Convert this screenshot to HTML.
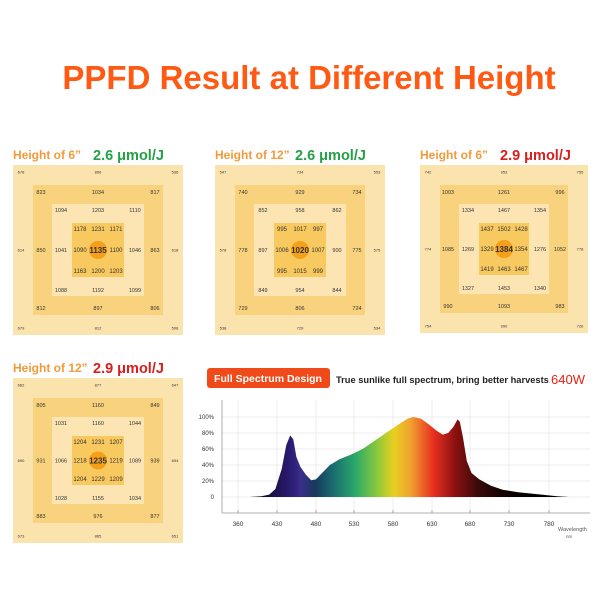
<!DOCTYPE html>
<html><head><meta charset="utf-8"><style>
html,body{margin:0;padding:0;background:#fff;width:600px;height:600px;overflow:hidden}
svg{display:block;font-family:"Liberation Sans",sans-serif}
</style></head><body>
<svg id="s" width="600" height="600" viewBox="0 0 600 600">
<defs>
<linearGradient id="sp" x1="254" x2="534" y1="0" y2="0" gradientUnits="userSpaceOnUse">
<stop offset="0" stop-color="#000"/>
<stop offset="0.06" stop-color="#1a1040"/>
<stop offset="0.125" stop-color="#2a1a70"/>
<stop offset="0.167" stop-color="#3a2e8a"/>
<stop offset="0.22" stop-color="#173a5a"/>
<stop offset="0.28" stop-color="#1a6a70"/>
<stop offset="0.36" stop-color="#2aa86a"/>
<stop offset="0.44" stop-color="#8ac83a"/>
<stop offset="0.5" stop-color="#e8d020"/>
<stop offset="0.56" stop-color="#f0a030"/>
<stop offset="0.64" stop-color="#e83020"/>
<stop offset="0.72" stop-color="#8a1010"/>
<stop offset="0.8" stop-color="#3a0a0a"/>
<stop offset="0.89" stop-color="#110000"/>
<stop offset="1" stop-color="#000"/>
</linearGradient>
</defs>
<text x="309" y="89" text-anchor="middle" font-size="33" font-weight="bold" fill="#ff5a14">PPFD Result at Different Height</text>
<g id="panels"></g>
<rect x="207" y="368" width="123" height="20" rx="3" fill="#f04a1a"/>
<text x="268" y="382" text-anchor="middle" font-size="10.5" font-weight="bold" fill="#fff">Full Spectrum Design</text>
<text x="336" y="383" font-size="9.3" font-weight="bold" fill="#222">True sunlike full spectrum, bring better harvests</text>
<text x="551" y="384" font-size="13" fill="#e82010">640W</text>
<g id="chart"></g>
</svg>
<script>
var NS="http://www.w3.org/2000/svg";
function el(p,t,a,txt){var e=document.createElementNS(NS,t);for(var k in a)e.setAttribute(k,a[k]);if(txt!==undefined)e.textContent=txt;p.appendChild(e);return e;}
var P=document.getElementById("panels");
function panel(x,y,w,h,t1,t2,c2,o,r2,r3,inn){
 el(P,"text",{x:x,y:y-6,"font-size":12,"font-weight":"bold",fill:"#f39a3a"},t1);
 el(P,"text",{x:x+80,y:y-5,"font-size":14.5,"font-weight":"bold",fill:c2},t2);
 el(P,"rect",{x:x,y:y,width:w,height:h,fill:"#fbe3ad"});
 el(P,"rect",{x:x+20,y:y+20,width:w-40,height:h-40,fill:"#f9d27e"});
 el(P,"rect",{x:x+39,y:y+39,width:w-78,height:h-78,fill:"#fde5b3"});
 el(P,"rect",{x:x+59,y:y+58,width:w-118,height:h-116,fill:"#f8c95f"});
 var cx=x+w/2,cy=y+h/2;
 el(P,"circle",{cx:cx,cy:cy,r:9,fill:"#f5a01a"});
 function grid(v,dx,dy,fs,fw){
  var xs=[x+dx,cx,x+w-dx],ys=[y+dy,cy,y+h-dy];
  for(var i=0;i<9;i++){if(v[i]==="")continue;var r=Math.floor(i/3),c=i%3;
   var f=fs,b=fw;if(i==4){f=8;b="bold";}
   el(P,"text",{x:xs[c],y:ys[r]+f*0.35,"text-anchor":"middle","font-size":f,"font-weight":b,fill:"#333"},v[i]);}
 }
 grid(o,8,7,4,"normal");
 grid(r2,28,27,5.5,"normal");
 grid(r3,48,45,5.5,"normal");
 grid(inn,67,64,6,"normal");
}
panel(13,165,170,170,"Height of 6\u201d","2.6 \u03bcmol/J","#24a046",
 ["678","806","536","614","","618","679","812","508"],
 ["823","1034","817","850","","863","812","897","806"],
 ["1094","1203","1110","1041","","1046","1088","1192","1099"],
 ["1178","1231","1171","1090","1135","1100","1163","1200","1203"]);
panel(215,165,170,170,"Height of 12\u201d","2.6 \u03bcmol/J","#24a046",
 ["547","734","553","578","","575","538","729","534"],
 ["740","929","734","778","","775","729","806","724"],
 ["852","958","862","897","","900","849","954","844"],
 ["995","1017","997","1006","1020","1007","995","1015","999"]);
panel(420,165,168,168,"Height of 6\u201d","2.9 \u03bcmol/J","#d81e1e",
 ["742","953","755","774","","778","754","990","726"],
 ["1003","1261","996","1085","","1052","990","1093","983"],
 ["1334","1467","1354","1269","","1276","1327","1453","1340"],
 ["1437","1502","1428","1329","1384","1354","1419","1463","1467"]);
panel(13,378,170,165,"Height of 12\u201d","2.9 \u03bcmol/J","#d81e1e",
 ["662","877","647","690","","694","673","865","651"],
 ["805","1160","849","931","","939","883","976","877"],
 ["1031","1160","1044","1066","","1089","1028","1155","1034"],
 ["1204","1231","1207","1218","1235","1219","1204","1229","1209"]);
var C=document.getElementById("chart");
function X(nm){return 277+(nm-430)*0.778;}
function Y(p){return 497-0.8*p;}
var labs=[[360,238],[430,277],[480,316],[530,354],[580,393],[630,432],[680,470],[730,509],[780,549]];
labs.forEach(function(l){el(C,"line",{x1:l[1],x2:l[1],y1:400,y2:513,stroke:"#e6e6e6","stroke-width":0.7});
 el(C,"line",{x1:l[1],x2:l[1],y1:510,y2:513,stroke:"#888","stroke-width":0.7});
 el(C,"text",{x:l[1],y:526,"text-anchor":"middle","font-size":6.5,fill:"#333"},l[0]);});
[0,20,40,60,80,100].forEach(function(p){el(C,"line",{x1:222,x2:590,y1:Y(p),y2:Y(p),stroke:"#e6e6e6","stroke-width":0.7});
 el(C,"text",{x:214,y:Y(p)+2,"text-anchor":"end","font-size":6,fill:"#333"},p==0?"0":p+"%");});
el(C,"line",{x1:222,x2:222,y1:400,y2:513,stroke:"#999","stroke-width":0.8});
el(C,"line",{x1:222,x2:590,y1:513,y2:513,stroke:"#999","stroke-width":0.8});
el(C,"text",{x:558,y:531,"font-size":5.5,fill:"#555"},"Wavelength");
el(C,"text",{x:566,y:538,"font-size":4.5,fill:"#555"},"nm");
var pts=[[395,0],[410,1],[420,3],[428,10],[436,35],[442,65],[447,77],[451,72],[455,50],[460,38],[467,28],[474,21],[480,22],[488,30],[498,40],[510,47],[525,53],[540,60],[555,70],[570,80],[585,90],[598,98],[605,100],[615,98],[625,91],[635,83],[643,78],[650,80],[657,88],[662,97],[665,94],[669,75],[674,45],[680,30],[690,22],[705,14],[720,9],[740,6],[770,3],[790,1],[805,0]];
var d="M"+X(395)+" "+Y(0);pts.forEach(function(p){d+=" L"+X(p[0]).toFixed(1)+" "+Y(p[1]).toFixed(1);});d+=" Z";
el(C,"path",{d:d,fill:"url(#sp)"});
</script>
</body></html>
